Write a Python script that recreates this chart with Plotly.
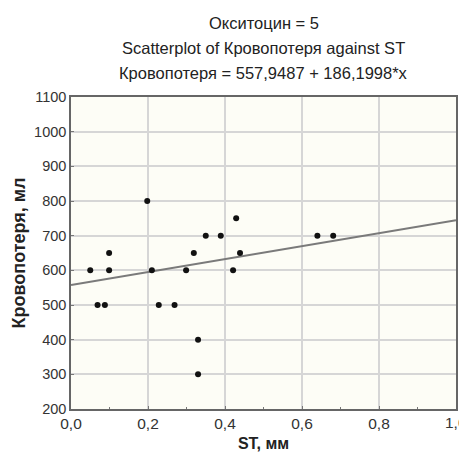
import plotly.graph_objects as go

# Data
st_mm = [0.05, 0.069, 0.088, 0.099, 0.099, 0.198, 0.21, 0.228, 0.269, 0.299,
         0.319, 0.33, 0.33, 0.35, 0.389, 0.421, 0.429, 0.439, 0.64, 0.681]
blood_loss = [600, 500, 500, 650, 600, 800, 600, 500, 500, 600,
              650, 400, 300, 700, 700, 600, 750, 650, 700, 700]

intercept = 557.9487
slope = 186.1998
fit_x = [0.0, 1.0]

x_tickvals = [0.0, 0.2, 0.4, 0.6, 0.8, 1.0]
x_ticktext = ["0,0", "0,2", "0,4", "0,6", "0,8", "1,0"]
y_tickvals = [200, 300, 400, 500, 600, 700, 800, 900, 1000, 1100]

title_lines = ["Окситоцин = 5",
               "Scatterplot of Кровопотеря against ST",
               "Кровопотеря = 557,9487 + 186,1998*x"]

FONT = "Liberation Sans, Arial, sans-serif"

fig = go.Figure()
fig.add_trace(go.Scatter(
    x=fit_x, y=[intercept + slope * v for v in fit_x],
    mode="lines", line=dict(color="#7a7a7a", width=2), hoverinfo="skip",
    showlegend=False))
fig.add_trace(go.Scatter(
    x=st_mm, y=blood_loss, mode="markers",
    marker=dict(color="#111111", size=6), showlegend=False))

for i, t in enumerate(title_lines):
    fig.add_annotation(text=t, xref="paper", yref="paper",
                       x=0.5, y=[1.238, 1.158, 1.078][i],
                       xanchor="center", yanchor="middle", showarrow=False,
                       font=dict(family=FONT, size=16.5, color="#222222"))

# last x tick label sits at the window edge; plotly drops it, so place it as text
fig.add_annotation(text=x_ticktext[-1], xref="x", yref="paper",
                   x=x_tickvals[-1], y=0, yshift=-3, xanchor="center",
                   yanchor="top", showarrow=False,
                   font=dict(family=FONT, size=15.5, color="#333333"))

# page body has an 8px margin: size the figure so it fills the window exactly
fig.update_layout(
    width=459, height=452,
    margin=dict(l=63, r=9, t=89, b=51),
    paper_bgcolor="#ffffff",
    plot_bgcolor="#fdfdf6",
    font=dict(family=FONT, color="#333333"),
)
fig.update_xaxes(range=[0, 1], tickmode="array", tickvals=x_tickvals,
                 ticktext=x_ticktext,
                 showgrid=True, gridcolor="#d6d6d6", gridwidth=2,
                 zeroline=False, showline=True, linecolor="#666666", linewidth=1.5,
                 mirror=True, ticks="inside", ticklen=3, tickcolor="#777777",
                 minor=dict(tickvals=[0.1, 0.3, 0.5, 0.7, 0.9], ticks="inside",
                            ticklen=2, tickcolor="#777777", showgrid=False),
                 tickfont=dict(size=15.5, color="#333333"),
                 title=dict(text="<b>ST, мм</b>", standoff=6,
                            font=dict(size=16, color="#222222")))
fig.update_yaxes(range=[200, 1100], tickmode="array", tickvals=y_tickvals,
                 showgrid=True, gridcolor="#d6d6d6", gridwidth=2,
                 zeroline=False, showline=True, linecolor="#666666", linewidth=1.5,
                 mirror=True, ticks="inside", ticklen=3, tickcolor="#777777",
                 tickfont=dict(size=14.5, color="#333333"),
                 title=dict(text="<b>Кровопотеря, мл</b>", standoff=4,
                            font=dict(size=18, color="#222222")))

fig.write_html("out.html")
